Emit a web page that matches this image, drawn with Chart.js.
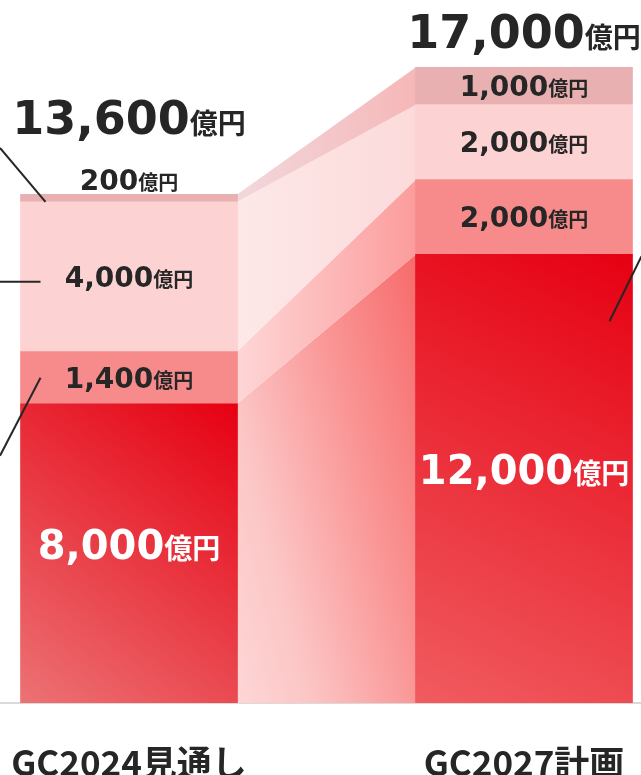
<!DOCTYPE html>
<html>
<head>
<meta charset="utf-8">
<script src="https://cdn.jsdelivr.net/npm/chart.js@4.4.1/dist/chart.umd.min.js"></script>
<style>
html,body{margin:0;padding:0;background:#fff;overflow:hidden}
#wrap{width:641px;height:775px;position:relative}
</style>
</head>
<body>
<div id="wrap"><canvas id="c" width="641" height="775"></canvas></div>
<script>
// ---- data ----
const categories = ['GC2024見通し', 'GC2027計画'];
const coreValues   = [8000, 12000];
const layer2Values = [1400, 2000];
const layer3Values = [4000, 2000];
const layer4Values = [200, 1000];
const totals       = [13600, 17000];
const unitText = '億円';

// ---- styling ----
const barW = 217;
const darkText = '#262626';
const numFont = '"DejaVu Sans"';
const cjkFont = '"Noto Sans CJK JP"';
const coreStops = [['#ec7274', '#e60012'], ['#f05c60', '#e60012']];
const segColors = [null, '#f78b8b', '#fcd2d2', '#e8b0b0'];
const bandStyles = [
  {stops: [[0, '#fed6d6'], [0.258, '#fcc5c5'], [0.614, '#fa9797'], [1, '#f76b6b']], tilt: 0.25},
  {stops: [[0, '#fed6d6'], [1, '#fc9c9c']], tilt: 0},
  {stops: [[0, '#fde8e8'], [1, '#fcdada']], tilt: 0},
  {stops: [[0, '#f1d8dc'], [1, '#f6b7b8']], tilt: 0}
];
const totalOffsets = [60, 19];

const layers = [coreValues, layer2Values, layer3Values, layer4Values];
const toPts = arr => arr.map((v, i) => ({x: i, y: v}));
const fmt = v => v.toLocaleString('en-US');

function coreGradient(c) {
  const chart = c.chart;
  if (!chart.chartArea || c.dataIndex === undefined) return '#e8202e';
  const xs = chart.scales.x, ys = chart.scales.y;
  const cx = xs.getPixelForValue(c.dataIndex);
  const y0 = ys.getPixelForValue(0);
  const y1 = ys.getPixelForValue(coreValues[c.dataIndex]);
  const g = chart.ctx.createLinearGradient(cx - barW / 2, y0, cx + barW / 2, y1);
  const s = coreStops[c.dataIndex];
  g.addColorStop(0, s[0]);
  g.addColorStop(1, s[1]);
  return g;
}

const bandPlugin = {
  id: 'bands',
  beforeDatasetsDraw(chart) {
    const ctx = chart.ctx;
    ctx.save();
    layers.forEach((_, i) => {
      const meta = chart.getDatasetMeta(i);
      const a = meta.data[0], b = meta.data[1];
      const xl = a.x + a.width / 2 - 0.5, xr = b.x - b.width / 2 + 0.5;
      const st = bandStyles[i];
      let g;
      if (st.tilt) {
        const px = xr - xl, py = b.y - a.base;
        const s = (px - py * st.tilt) / (1 + st.tilt * st.tilt);
        g = ctx.createLinearGradient(xl, a.base, xl + s, a.base - s * st.tilt);
      } else {
        g = ctx.createLinearGradient(xl, 0, xr, 0);
      }
      st.stops.forEach(([o, c]) => g.addColorStop(o, c));
      ctx.fillStyle = g;
      ctx.beginPath();
      ctx.moveTo(xl, a.y);
      ctx.lineTo(xr, b.y);
      ctx.lineTo(xr, b.base);
      ctx.lineTo(xl, a.base);
      ctx.closePath();
      ctx.fill();
    });
    ctx.restore();
  }
};

function drawLabel(ctx, num, cx, baseline, numSize, unitSize, color) {
  ctx.font = `bold ${numSize}px ${numFont}`;
  const nw = ctx.measureText(num).width;
  ctx.font = `bold ${unitSize}px ${cjkFont}`;
  const uw = ctx.measureText(unitText).width;
  const x0 = cx - (nw + uw) / 2;
  ctx.fillStyle = color;
  ctx.textAlign = 'left';
  ctx.textBaseline = 'alphabetic';
  ctx.font = `bold ${numSize}px ${numFont}`;
  ctx.fillText(num, x0, baseline);
  ctx.font = `bold ${unitSize}px ${cjkFont}`;
  ctx.fillText(unitText, x0 + nw, baseline);
}

const labelPlugin = {
  id: 'labels',
  afterDatasetsDraw(chart) {
    const ctx = chart.ctx;
    ctx.save();
    layers.forEach((arr, i) => {
      const meta = chart.getDatasetMeta(i);
      meta.data.forEach((bar, j) => {
        const h = bar.base - bar.y;
        const mid = (bar.base + bar.y) / 2;
        if (i === 0) {
          const cy = mid - 9;
          drawLabel(ctx, fmt(arr[j]), bar.x, cy + 40 * 0.729 / 2, 40, 28, '#ffffff');
        } else {
          const cy = h < 20 ? bar.y - 15 : mid;
          drawLabel(ctx, fmt(arr[j]), bar.x, cy + 28 * 0.729 / 2, 28, 20, darkText);
        }
      });
    });
    const topMeta = chart.getDatasetMeta(layers.length - 1);
    topMeta.data.forEach((bar, j) => {
      drawLabel(ctx, fmt(totals[j]), bar.x, bar.y - totalOffsets[j], 46, 28, darkText);
    });

    // leader lines
    ctx.strokeStyle = darkText;
    ctx.lineWidth = 2;
    ctx.lineCap = 'butt';
    const m = i => chart.getDatasetMeta(i).data;
    const L0 = m(0)[0], L1 = m(1)[0], L2 = m(2)[0], L3 = m(3)[0];
    const left = L0.x - L0.width / 2;
    const line = (x1, y1, x2, y2) => { ctx.beginPath(); ctx.moveTo(x1, y1); ctx.lineTo(x2, y2); ctx.stroke(); };
    line(0, L3.base - 54, left + 25, L3.base);
    const c3 = (L2.y + L2.base) / 2 + 5;
    line(0, c3, left + 20, c3);
    const c2 = (L1.y + L1.base) / 2;
    line(left + 20, c2, 0, c2 + 78);
    const R0 = m(0)[1];
    const right = R0.x + R0.width / 2;
    line(right - 23, R0.y + 67, right + 9, R0.y + 2);
    ctx.restore();
  }
};

new Chart(document.getElementById('c'), {
  type: 'bar',
  data: {
    datasets: layers.map((arr, k) => ({
      data: toPts(arr),
      backgroundColor: k === 0 ? coreGradient : segColors[k],
      borderWidth: 0,
      barThickness: barW
    }))
  },
  options: {
    responsive: false,
    animation: false,
    events: [],
    layout: {padding: 0},
    plugins: {legend: {display: false}, tooltip: {enabled: false}},
    scales: {
      x: {
        type: 'linear',
        min: -0.3266,
        max: 1.2962,
        bounds: 'data',
        offset: false,
        stacked: true,
        afterBuildTicks: axis => { axis.ticks = categories.map((_, i) => ({value: i})); },
        ticks: {
          callback: v => categories[v] ?? '',
          font: {family: cjkFont, size: 35, weight: 'bold', lineHeight: 0.686},
          color: darkText,
          padding: 0,
          maxRotation: 0,
          minRotation: 0,
          autoSkip: false
        },
        grid: {display: false, drawTicks: true, tickLength: 48, offset: false},
        border: {display: true, color: '#dadada', width: 2}
      },
      y: {stacked: true, min: 0, max: 18800, display: false}
    }
  },
  plugins: [bandPlugin, labelPlugin]
});
</script>
</body>
</html>
